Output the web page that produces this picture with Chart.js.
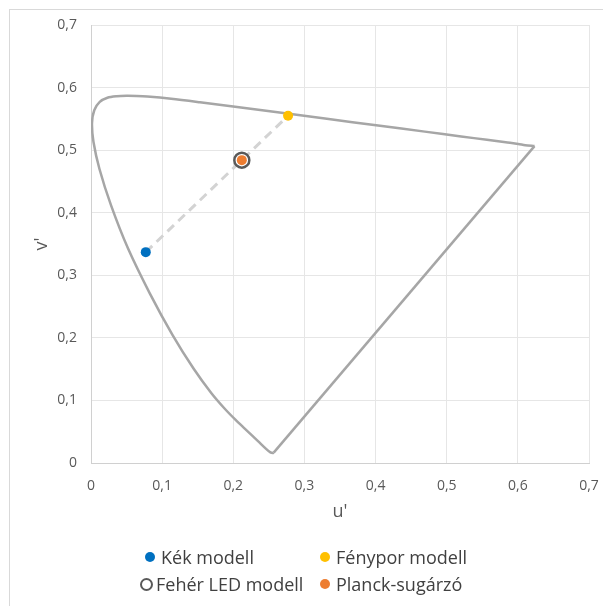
<!DOCTYPE html>
<html>
<head>
<meta charset="utf-8">
<script src="https://cdn.jsdelivr.net/npm/chart.js@4.4.1/dist/chart.umd.min.js"></script>
<style>
  html, body { margin: 0; padding: 0; background: #fff; }
  #wrap { position: relative; width: 603px; height: 606px; overflow: hidden; }
  #frame { position: absolute; left: 9px; top: 9px; width: 620px; height: 620px; border: 1px solid #d9d9d9; box-sizing: border-box; }
  #uvChart { position: absolute; left: 0; top: 0; }
  .leg { position: absolute; display: flex; align-items: center; font-family: 'Open Sans', sans-serif; font-size: 18px; color: #404040; white-space: nowrap; line-height: 1; }
  .leg .mk { display: inline-block; border-radius: 50%; box-sizing: border-box; margin-right: 6px; }
</style>
</head>
<body>
<div id="wrap">
  <div id="frame"></div>
  <canvas id="uvChart" width="603" height="606"></canvas>
  <div id="legend"></div>
</div>
<script>
// CIE 1976 spectral locus (u', v'), 380 nm -> 680 nm
const locusU = [0.2568, 0.2557, 0.2522, 0.2461, 0.2347, 0.2266, 0.2161, 0.2033, 0.1877, 0.1690, 0.1441, 0.1147,
  0.0828, 0.0521, 0.0282, 0.0119, 0.0035, 0.0014, 0.0046, 0.0123, 0.0231, 0.0360, 0.0501, 0.0643, 0.0792,
  0.1127, 0.1531, 0.2026, 0.2623, 0.3315, 0.4035, 0.4692, 0.5203, 0.5565, 0.5830, 0.6005, 0.6104, 0.6234];
const locusV = [0.0166, 0.0159, 0.0169, 0.0226, 0.0350, 0.0437, 0.0549, 0.0688, 0.0871, 0.1119, 0.1510, 0.2044,
  0.2708, 0.3427, 0.4117, 0.4699, 0.5131, 0.5431, 0.5638, 0.5770, 0.5837, 0.5861, 0.5868, 0.5865, 0.5856,
  0.5821, 0.5766, 0.5694, 0.5604, 0.5501, 0.5393, 0.5296, 0.5219, 0.5165, 0.5125, 0.5099, 0.5079, 0.5065];

// model points: blue LED, phosphor, white LED, Planckian radiator
const pointLabels = ['Kék modell', 'Fénypor modell', 'Fehér LED modell', 'Planck-sugárzó'];
const pointU = [0.077, 0.277, 0.212, 0.212];
const pointV = [0.337, 0.555, 0.484, 0.484];

const tickLabels = ['0', '0,1', '0,2', '0,3', '0,4', '0,5', '0,6', '0,7'];

const gray = '#595959';
const fontFamily = "'Open Sans', sans-serif";

const locus = locusU.map((u, i) => ({ x: u, y: locusV[i] }));
const last = locus.length - 1;
const pt = i => [{ x: pointU[i], y: pointV[i] }];

const locusStyle = {
    showLine: true,
    borderColor: '#a6a6a6',
    borderWidth: 2.5,
    pointRadius: 0
};

const datasets = [
    // smooth spectral curve
    Object.assign({ label: 'spektrum', data: locus, tension: 0.3, order: 10 }, locusStyle),
    // straight purple line closing the locus
    Object.assign({ label: 'bíbor egyenes', data: [locus[last], locus[0]], tension: 0, order: 11 }, locusStyle),
    {
        label: 'keverési egyenes',
        data: [pt(0)[0], pt(1)[0]],
        showLine: true,
        borderColor: '#d3d3d3',
        borderWidth: 3,
        borderDash: [9, 6],
        pointRadius: 0,
        order: 9
    },
    {
        label: pointLabels[0],
        data: pt(0),
        backgroundColor: '#0070c0',
        borderColor: '#0070c0',
        pointRadius: 5,
        borderWidth: 0,
        order: 4
    },
    {
        label: pointLabels[1],
        data: pt(1),
        backgroundColor: '#ffc000',
        borderColor: '#ffc000',
        pointRadius: 5,
        borderWidth: 0,
        order: 3
    },
    {
        label: pointLabels[2],
        data: pt(2),
        backgroundColor: '#ffffff',
        borderColor: gray,
        pointRadius: 7.5,
        borderWidth: 2.5,
        order: 2
    },
    {
        label: pointLabels[3],
        data: pt(3),
        backgroundColor: '#ed7d31',
        borderColor: '#ed7d31',
        pointRadius: 5,
        borderWidth: 0,
        order: 1
    }
];

const tickFont = { family: fontFamily, size: 14 };
const titleFont = { family: fontFamily, size: 18 };

const ctx = document.getElementById('uvChart').getContext('2d');
const chart = new Chart(ctx, {
    type: 'scatter',
    data: { datasets },
    options: {
        responsive: false,
        animation: false,
        layout: { padding: { left: 9, right: 14, top: 25, bottom: 83 } },
        plugins: {
            legend: { display: false },
            tooltip: { enabled: false }
        },
        scales: {
            x: {
                type: 'linear',
                min: 0,
                max: 0.7,
                ticks: {
                    stepSize: 0.1,
                    color: gray,
                    font: tickFont,
                    padding: 15,
                    callback: (v, i) => tickLabels[i]
                },
                grid: { color: '#e6e6e6', drawTicks: false },
                border: { color: '#d0d0d0' },
                title: { display: true, text: "u'", color: gray, font: titleFont, padding: { top: 0, bottom: 0 } },
                afterFit: scale => {
                    scale.height = 60;
                    scale.paddingLeft = 0;
                    scale.paddingRight = 0;
                }
            },
            y: {
                type: 'linear',
                min: 0,
                max: 0.7,
                ticks: {
                    stepSize: 0.1,
                    color: gray,
                    font: tickFont,
                    padding: 14,
                    callback: (v, i) => tickLabels[i]
                },
                grid: { color: '#e6e6e6', drawTicks: false },
                border: { color: '#d0d0d0' },
                title: { display: true, text: "v'", color: gray, font: titleFont, padding: { top: 22, bottom: 0 } },
                afterFit: scale => {
                    scale.width = 82;
                    scale.paddingTop = 0;
                    scale.paddingBottom = 0;
                }
            }
        }
    }
});

// two-column legend under the plot
const legendPos = [
    { left: 145, top: 548 },
    { left: 320, top: 548 },
    { left: 140, top: 575 },
    { left: 320, top: 575 }
];
const legendEl = document.getElementById('legend');
pointLabels.forEach((name, i) => {
    const ds = datasets[i + 3];
    const item = document.createElement('div');
    item.className = 'leg';
    item.style.left = legendPos[i].left + 'px';
    item.style.top = legendPos[i].top + 'px';
    const mk = document.createElement('span');
    mk.className = 'mk';
    if (ds.backgroundColor === '#ffffff') {
        mk.style.width = '13px';
        mk.style.height = '13px';
        mk.style.border = '2.5px solid ' + ds.borderColor;
        mk.style.marginRight = '3px';
    } else {
        mk.style.width = '10px';
        mk.style.height = '10px';
        mk.style.background = ds.backgroundColor;
    }
    const txt = document.createElement('span');
    txt.textContent = name;
    item.appendChild(mk);
    item.appendChild(txt);
    legendEl.appendChild(item);
});
</script>
</body>
</html>
